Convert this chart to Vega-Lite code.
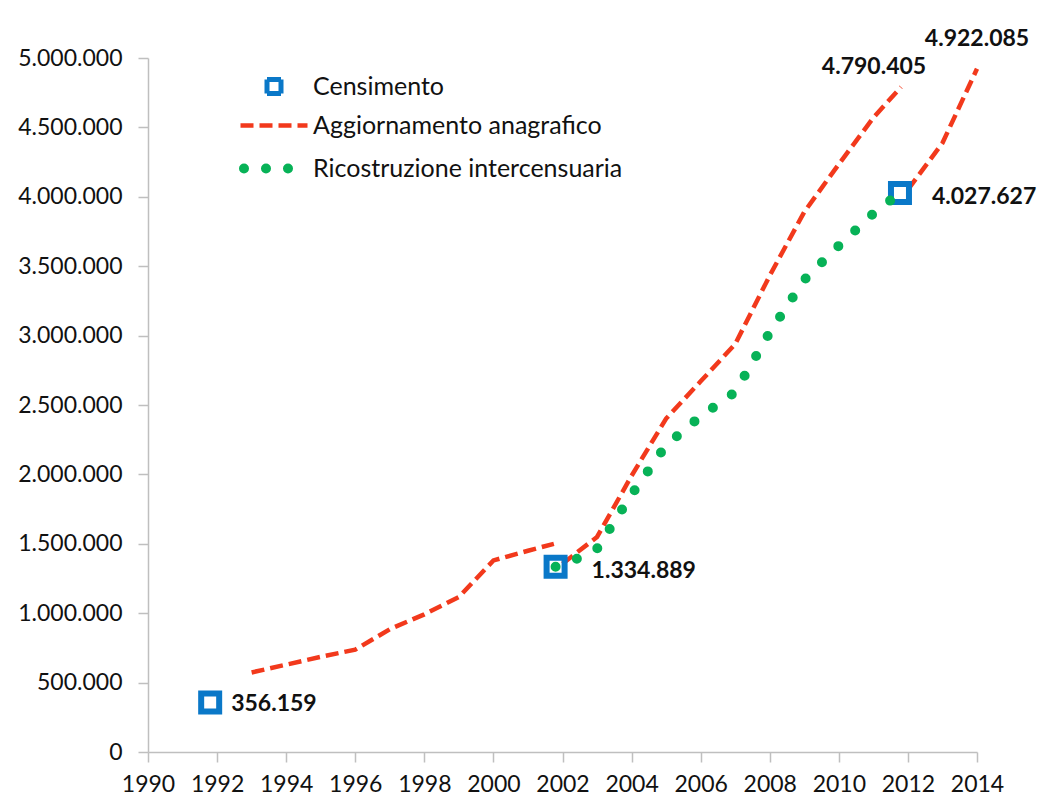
{
  "$schema": "https://vega.github.io/schema/vega-lite/v6.json",
  "width": 829,
  "height": 694,
  "autosize": {"type": "none"},
  "padding": {"left": 148, "top": 58, "right": 71, "bottom": 44},
  "background": "white",
  "config": {
    "locale": {"number": {"decimal": ",", "thousands": ".", "grouping": [3], "currency": ["€", ""]}},
    "font": "Lato",
    "view": {"stroke": null},
    "axis": {
      "grid": false,
      "domainColor": "#BFBFBF",
      "domainWidth": 1.5,
      "tickColor": "#BFBFBF",
      "tickWidth": 1.5,
      "tickSize": 10,
      "labelFont": "Lato",
      "labelFontSize": 23,
      "labelColor": "#111111",
      "title": null
    }
  },
  "datasets": {
    "censimento": [
      {"anno": 1991.8, "valore": 356159, "serie": "Censimento"},
      {"anno": 2001.8, "valore": 1334889, "serie": "Censimento"},
      {"anno": 2011.77, "valore": 4027627, "serie": "Censimento"}
    ],
    "anagrafe": [
      {"anno": 1993, "valore": 573258, "tratto": 1, "serie": "Aggiornamento anagrafico"},
      {"anno": 1994, "valore": 629165, "tratto": 1, "serie": "Aggiornamento anagrafico"},
      {"anno": 1995, "valore": 685469, "tratto": 1, "serie": "Aggiornamento anagrafico"},
      {"anno": 1996, "valore": 737793, "tratto": 1, "serie": "Aggiornamento anagrafico"},
      {"anno": 1997, "valore": 884555, "tratto": 1, "serie": "Aggiornamento anagrafico"},
      {"anno": 1998, "valore": 991678, "tratto": 1, "serie": "Aggiornamento anagrafico"},
      {"anno": 1999, "valore": 1116394, "tratto": 1, "serie": "Aggiornamento anagrafico"},
      {"anno": 2000, "valore": 1380000, "tratto": 1, "serie": "Aggiornamento anagrafico"},
      {"anno": 2001, "valore": 1450000, "tratto": 1, "serie": "Aggiornamento anagrafico"},
      {"anno": 2001.75, "valore": 1500000, "tratto": 1, "serie": "Aggiornamento anagrafico"},
      {"anno": 2002, "valore": 1356590, "tratto": 2, "serie": "Aggiornamento anagrafico"},
      {"anno": 2003, "valore": 1549373, "tratto": 2, "serie": "Aggiornamento anagrafico"},
      {"anno": 2004, "valore": 1990159, "tratto": 2, "serie": "Aggiornamento anagrafico"},
      {"anno": 2005, "valore": 2402157, "tratto": 2, "serie": "Aggiornamento anagrafico"},
      {"anno": 2006, "valore": 2670514, "tratto": 2, "serie": "Aggiornamento anagrafico"},
      {"anno": 2007, "valore": 2938922, "tratto": 2, "serie": "Aggiornamento anagrafico"},
      {"anno": 2008, "valore": 3432651, "tratto": 2, "serie": "Aggiornamento anagrafico"},
      {"anno": 2009, "valore": 3891295, "tratto": 2, "serie": "Aggiornamento anagrafico"},
      {"anno": 2010, "valore": 4235059, "tratto": 2, "serie": "Aggiornamento anagrafico"},
      {"anno": 2011, "valore": 4570317, "tratto": 2, "serie": "Aggiornamento anagrafico"},
      {"anno": 2011.8, "valore": 4790405, "tratto": 2, "serie": "Aggiornamento anagrafico"},
      {"anno": 2012, "valore": 4052081, "tratto": 3, "serie": "Aggiornamento anagrafico"},
      {"anno": 2013, "valore": 4387721, "tratto": 3, "serie": "Aggiornamento anagrafico"},
      {"anno": 2014, "valore": 4922085, "tratto": 3, "serie": "Aggiornamento anagrafico"}
    ],
    "ricostruzione": [
      {"anno": 2001.8, "valore": 1334889, "serie": "Ricostruzione intercensuaria"},
      {"anno": 2002, "valore": 1341209, "serie": "Ricostruzione intercensuaria"},
      {"anno": 2003, "valore": 1464663, "serie": "Ricostruzione intercensuaria"},
      {"anno": 2004, "valore": 1854748, "serie": "Ricostruzione intercensuaria"},
      {"anno": 2005, "valore": 2210478, "serie": "Ricostruzione intercensuaria"},
      {"anno": 2006, "valore": 2419483, "serie": "Ricostruzione intercensuaria"},
      {"anno": 2007, "valore": 2592950, "serie": "Ricostruzione intercensuaria"},
      {"anno": 2008, "valore": 3023317, "serie": "Ricostruzione intercensuaria"},
      {"anno": 2009, "valore": 3402435, "serie": "Ricostruzione intercensuaria"},
      {"anno": 2010, "valore": 3648128, "serie": "Ricostruzione intercensuaria"},
      {"anno": 2011, "valore": 3879224, "serie": "Ricostruzione intercensuaria"},
      {"anno": 2011.77, "valore": 4027627, "serie": "Ricostruzione intercensuaria"}
    ]
  },
  "encoding": {
    "x": {
      "field": "anno",
      "type": "quantitative",
      "scale": {"domain": [1990, 2014], "nice": false, "zero": false},
      "axis": {"values": [1990, 1992, 1994, 1996, 1998, 2000, 2002, 2004, 2006, 2008, 2010, 2012, 2014], "format": "d", "labelPadding": 11, "labelFlush": false}
    },
    "y": {
      "field": "valore",
      "type": "quantitative",
      "scale": {"domain": [0, 5000000], "nice": false},
      "axis": {"values": [0, 500000, 1000000, 1500000, 2000000, 2500000, 3000000, 3500000, 4000000, 4500000, 5000000], "format": ",d", "labelPadding": 16}
    }
  },
  "layer": [
    {
      "data": {"name": "anagrafe"},
      "mark": {"type": "line", "strokeDash": [13, 6], "strokeWidth": 4.5, "strokeCap": "butt"},
      "encoding": {
        "detail": {"field": "tratto"},
        "color": {
          "field": "serie",
          "type": "nominal",
          "scale": {
            "domain": ["Censimento", "Aggiornamento anagrafico", "Ricostruzione intercensuaria"],
            "range": ["#0A78C8", "#F2391C", "#07B257"]
          },
          "legend": {
            "orient": "none",
            "legendX": 113.5,
            "legendY": 16,
            "title": null,
            "labelFont": "Lato",
            "labelFontSize": 25,
            "labelColor": "#111111",
            "labelOffset": 26.5,
            "labelLimit": 600,
            "symbolType": "stroke",
            "symbolSize": 1600,
            "rowPadding": 9,
            "encode": {
              "symbols": {
                "update": {
                  "shape": {"signal": "datum.value === 'Censimento' ? 'square' : 'stroke'"},
                  "size": {"signal": "datum.value === 'Censimento' ? 196 : datum.value === 'Aggiornamento anagrafico' ? 4489 : 3600"},
                  "strokeDash": {"signal": "datum.value === 'Aggiornamento anagrafico' ? [13, 6] : datum.value === 'Ricostruzione intercensuaria' ? [0, 22] : [1, 0]"},
                  "strokeWidth": {"signal": "datum.value === 'Censimento' ? 5 : datum.value === 'Aggiornamento anagrafico' ? 4.5 : 10"},
                  "strokeCap": {"signal": "datum.value === 'Ricostruzione intercensuaria' ? 'round' : 'butt'"},
                  "stroke": {"scale": "color", "field": "value"},
                  "fill": {"value": "transparent"},
                  "opacity": {"value": 1}
                }
              }
            }
          }
        }
      }
    },
    {
      "data": {"name": "censimento"},
      "mark": {"type": "point", "shape": "square", "filled": false, "size": 324, "strokeWidth": 6, "opacity": 1},
      "encoding": {
        "color": {"field": "serie", "type": "nominal"}
      }
    },
    {
      "data": {"name": "ricostruzione"},
      "mark": {"type": "line", "strokeDash": [0, 23], "strokeWidth": 10, "strokeCap": "round"},
      "encoding": {
        "color": {"field": "serie", "type": "nominal"}
      }
    },
    {
      "data": {"name": "censimento"},
      "transform": [{"filter": "datum.anno < 1995"}],
      "mark": {"type": "text", "align": "left", "baseline": "middle", "dx": 21, "dy": 1, "fontSize": 23, "fontWeight": "bold", "font": "Lato", "color": "#111111"},
      "encoding": {"text": {"field": "valore", "type": "quantitative", "format": ",d"}}
    },
    {
      "data": {"name": "censimento"},
      "transform": [{"filter": "datum.anno > 2000 && datum.anno < 2005"}],
      "mark": {"type": "text", "align": "left", "baseline": "middle", "dx": 36, "dy": 4, "fontSize": 23, "fontWeight": "bold", "font": "Lato", "color": "#111111"},
      "encoding": {"text": {"field": "valore", "type": "quantitative", "format": ",d"}}
    },
    {
      "data": {"name": "censimento"},
      "transform": [{"filter": "datum.anno > 2010"}],
      "mark": {"type": "text", "align": "left", "baseline": "middle", "dx": 32, "dy": 4, "fontSize": 23, "fontWeight": "bold", "font": "Lato", "color": "#111111"},
      "encoding": {"text": {"field": "valore", "type": "quantitative", "format": ",d"}}
    },
    {
      "data": {"name": "anagrafe"},
      "transform": [{"filter": "datum.tratto === 2 && datum.anno > 2011.5"}],
      "mark": {"type": "text", "align": "center", "baseline": "middle", "dx": -27, "dy": -20, "fontSize": 23, "fontWeight": "bold", "font": "Lato", "color": "#111111"},
      "encoding": {"text": {"field": "valore", "type": "quantitative", "format": ",d"}}
    },
    {
      "data": {"name": "anagrafe"},
      "transform": [{"filter": "datum.anno === 2014"}],
      "mark": {"type": "text", "align": "center", "baseline": "middle", "dx": 0, "dy": -30, "fontSize": 23, "fontWeight": "bold", "font": "Lato", "color": "#111111"},
      "encoding": {"text": {"field": "valore", "type": "quantitative", "format": ",d"}}
    }
  ]
}
